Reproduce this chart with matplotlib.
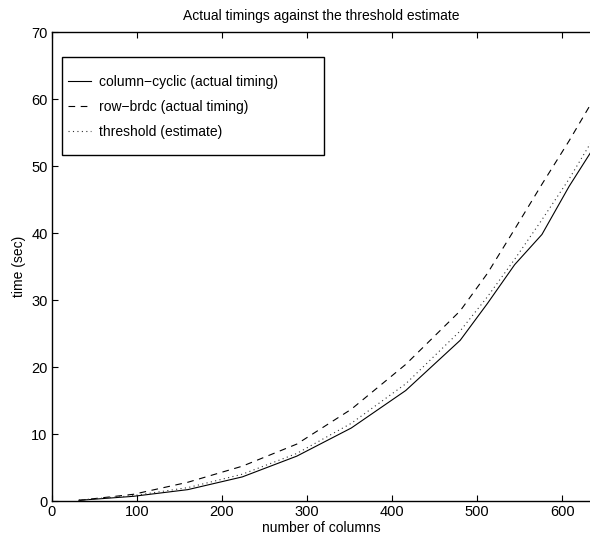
import matplotlib
matplotlib.use("Agg")
import matplotlib.pyplot as plt
from matplotlib.patches import Rectangle

plt.rcParams['font.family'] = ['Liberation Sans', 'DejaVu Sans']

columns = [32, 96, 160, 224, 288, 352, 416, 480, 512, 544, 576, 608, 640]
column_cyclic = [0.1, 0.7, 1.7, 3.6, 6.7, 10.9, 16.5, 24.0, 29.5, 35.3, 39.8, 47.0, 53.4]
row_brdc = [0.1, 1.0, 2.8, 5.2, 8.5, 13.7, 20.4, 28.4, 34.0, 40.6, 47.3, 53.8, 60.7]
threshold = [0.15, 0.8, 2.0, 4.0, 7.1, 11.6, 17.5, 25.4, 30.5, 36.1, 42.0, 48.1, 54.9]

title = "Actual timings against the threshold estimate"
xlabel = "number of columns"
ylabel = "time (sec)"
labels = ["column\u2212cyclic (actual timing)", "row\u2212brdc (actual timing)", "threshold (estimate)"]
xticks = [0, 100, 200, 300, 400, 500, 600]
yticks = [0, 10, 20, 30, 40, 50, 60, 70]

fig = plt.figure(figsize=(5.9, 5.39), dpi=100)
ax = fig.add_axes([0.0876, 0.0705, 0.9124, 0.8696])

l1, = ax.plot(columns, column_cyclic, color='black', linestyle='-', linewidth=0.8)
l2, = ax.plot(columns, row_brdc, color='black', linestyle=(0, (6, 5)), linewidth=0.8)
l3, = ax.plot(columns, threshold, color='#333333', linestyle=(0, (1, 3)), linewidth=0.8)

ax.set_xlim(0, 632.5)
ax.set_ylim(0, 70)
ax.set_xticks(xticks)
ax.set_yticks(yticks)
ax.tick_params(direction='in', length=4, width=0.8, top=True, right=False,
               labelsize=10.5, pad=3)
ax.spines['right'].set_visible(False)
for s in ['left', 'top', 'bottom']:
    ax.spines[s].set_linewidth(1.0)

ax.set_title(title, fontsize=10, pad=9)
ax.set_xlabel(xlabel, fontsize=10, labelpad=1)
ax.set_ylabel(ylabel, fontsize=10, labelpad=4)

# legend box (MATLAB style)
rect = Rectangle((62 / 590, 1 - 155 / 539), (324 - 62) / 590, (155 - 57) / 539,
                 transform=fig.transFigure, facecolor='white', edgecolor='black',
                 linewidth=1.0, zorder=5, clip_on=False)
ax.add_patch(rect)
leg = ax.legend([l1, l2, l3], labels, loc='upper left',
                bbox_to_anchor=(68 / 590, 1 - 75 / 539), bbox_transform=fig.transFigure,
                frameon=False, fontsize=10, handlelength=1.65, handletextpad=0.58,
                labelspacing=0.8, borderpad=0, borderaxespad=0)
leg.set_zorder(6)

fig.savefig("out.png", dpi=100)
